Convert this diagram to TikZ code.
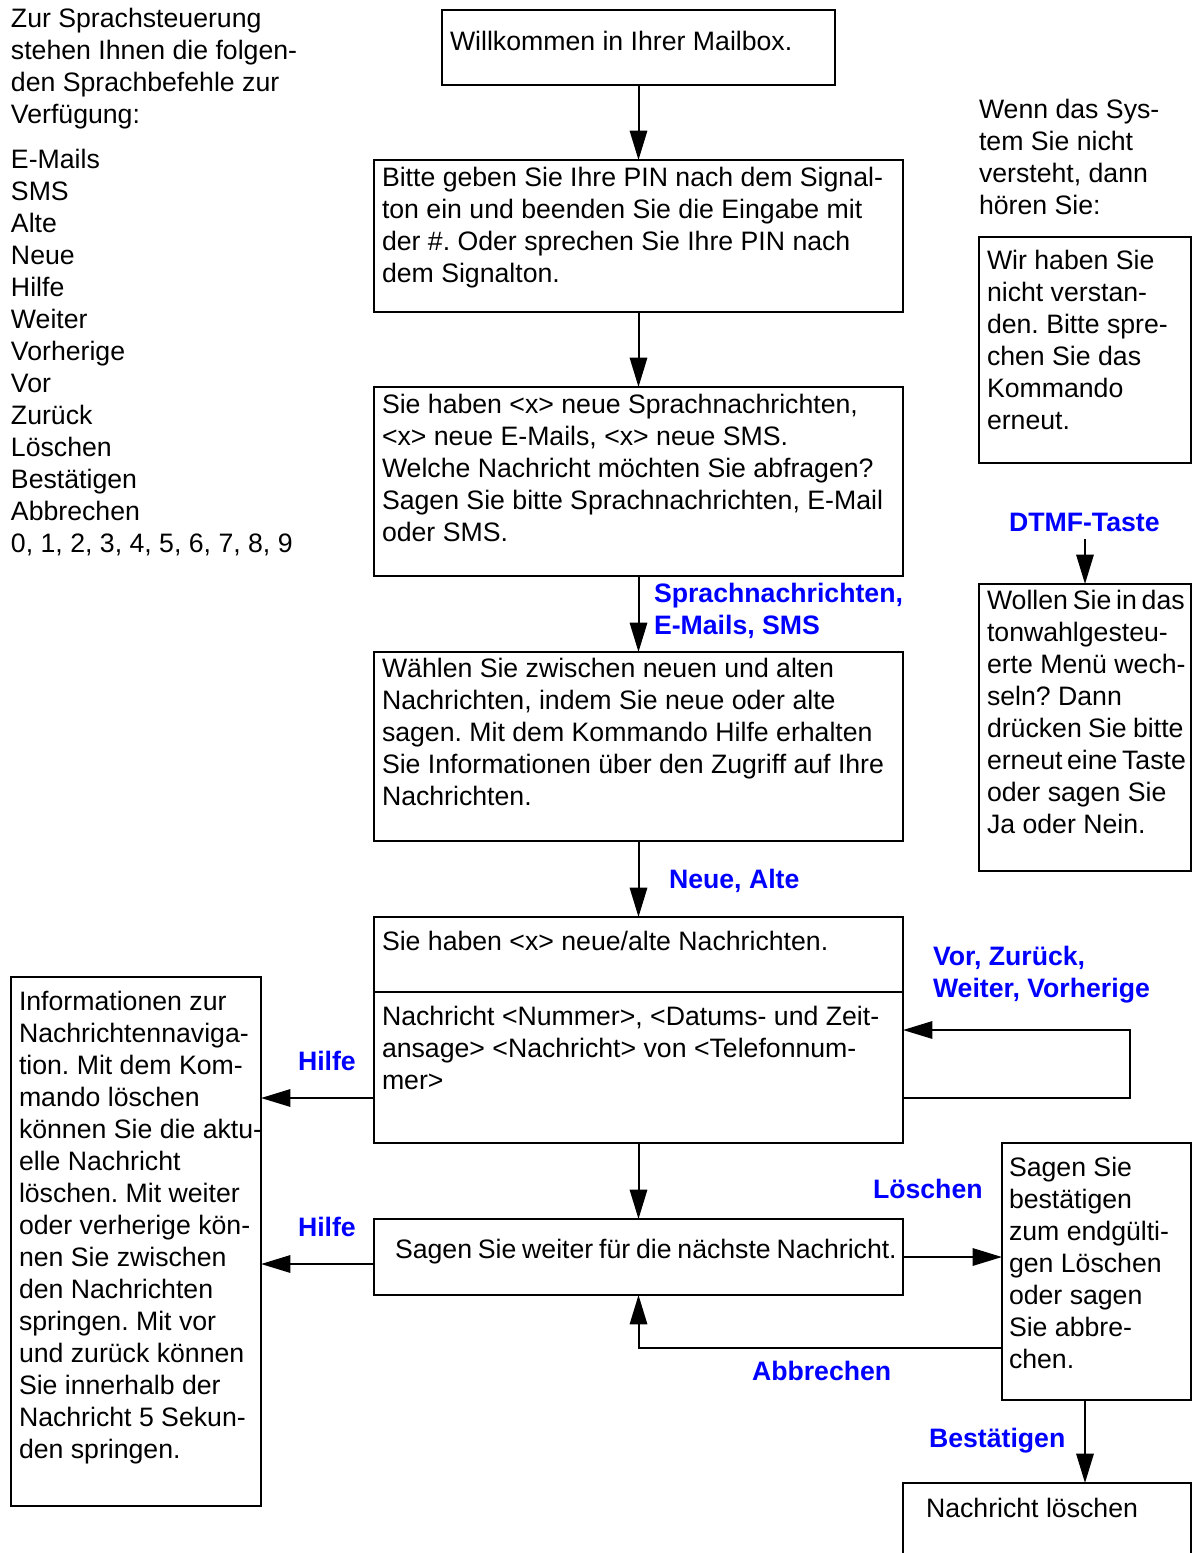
\documentclass[tikz,border=0pt]{standalone}
\usepackage{fontspec}
\setmainfont{Liberation Sans}
\usetikzlibrary{arrows.meta}
\definecolor{kw}{RGB}{0,0,255}
\tikzset{
  bx/.style={draw=black,line width=1.5pt,inner sep=0pt,outer sep=0pt,anchor=north west,fill=none},
  plain/.style={anchor=base west,inner sep=0pt,outer sep=0pt},
  kwd/.style={plain,text=kw,font=\fontsize{20}{24}\selectfont\bfseries},
  conn/.style={line width=1.5pt,-{Triangle[length=22pt,width=13pt]}}
}
\newcommand{\pxd}[1]{\dimexpr 0.75pt*(#1)\relax}
\newcommand{\tight}[2]{{\spaceskip=#1\relax #2}}
% name x1 y1 x2 y2 padx baseline text
\newcommand{\bx}[8]{%
  \node[bx] (#1) at (#2,#3) {\parbox[c][\pxd{#5-#3}][t]{\pxd{#4-#2}}{\rule{0pt}{\pxd{#7-1}}\hspace*{\pxd{#6}}\rlap{\parbox[t]{1000pt}{\raggedright\frenchspacing #8}}}};}
\begin{document}
\begin{tikzpicture}[x=0.75pt,y=-0.75pt,font=\fontsize{20}{24}\selectfont]
\useasboundingbox (0,0) rectangle (1194,1553);
\clip (0,0) rectangle (1194,1553);

\node[plain] (intro) at (11,27) {\parbox[t]{300pt}{\raggedright Zur Sprachsteuerung\\stehen Ihnen die folgen-\\den Sprachbefehle zur\\Verfügung:}};
\node[plain] (cmds) at (11,168) {\parbox[t]{300pt}{\raggedright E-Mails\\SMS\\Alte\\Neue\\Hilfe\\Weiter\\Vorherige\\Vor\\Zurück\\Löschen\\Bestätigen\\Abbrechen\\0, 1, 2, 3, 4, 5, 6, 7, 8, 9}};
\node[plain] (wenn) at (979,118) {\parbox[t]{160pt}{\raggedright Wenn das Sys-\\tem Sie nicht\\versteht, dann\\hören Sie:}};

\bx{welcome}{442}{10}{835}{85}{8}{41}{Willkommen in Ihrer Mailbox.}
\bx{pin}{374}{160}{903}{312}{8}{27}{Bitte geben Sie Ihre PIN nach dem Signal-\\ton ein und beenden Sie die Eingabe mit\\der \#. Oder sprechen Sie Ihre PIN nach\\dem Signalton.}
\bx{menu}{374}{387}{903}{576}{8}{27}{Sie haben <x> neue Sprachnachrichten,\\<x> neue E-Mails, <x> neue SMS.\\Welche Nachricht möchten Sie abfragen?\\Sagen Sie bitte Sprachnachrichten, E-Mail\\oder SMS.}
\bx{choose}{374}{652}{903}{841}{8}{26}{Wählen Sie zwischen neuen und alten\\Nachrichten, indem Sie neue oder alte\\sagen. Mit dem Kommando Hilfe erhalten\\Sie Informationen über den Zugriff auf Ihre\\Nachrichten.}
\bx{head}{374}{917}{903}{992}{8}{34}{Sie haben <x> neue/alte Nachrichten.}
\bx{body}{374}{992}{903}{1143}{8}{34}{Nachricht <Nummer>, <Datums- und Zeit-\\ansage> <Nachricht> von <Telefonnum-\\mer>}
\bx{next}{374}{1219}{903}{1295}{21}{40}{\tight{4.35pt}{Sagen Sie weiter für die nächste Nachricht.}}
\bx{info}{11}{977}{261}{1506}{8}{34}{Informationen zur\\Nachrichtennaviga-\\tion. Mit dem Kom-\\mando löschen\\können Sie die aktu-\\elle Nachricht\\löschen. Mit weiter\\oder verherige kön-\\nen Sie zwischen\\den Nachrichten\\springen. Mit vor\\und zurück können\\Sie innerhalb der\\Nachricht 5 Sekun-\\den springen.}
\bx{nounder}{979}{237}{1191}{463}{8}{33}{Wir haben Sie\\nicht verstan-\\den. Bitte spre-\\chen Sie das\\Kommando\\erneut.}
\bx{tone}{979}{584}{1191}{871}{8}{26}{\tight{3.6pt}{Wollen Sie in das}\\tonwahlgesteu-\\erte Menü wech-\\seln? Dann\\\tight{4.8pt}{drücken Sie bitte}\\\tight{3.4pt}{erneut eine Taste}\\oder sagen Sie\\Ja oder Nein.}
\bx{confirm}{1002}{1143}{1191}{1400}{7}{34}{Sagen Sie\\bestätigen\\zum endgülti-\\gen Löschen\\oder sagen\\Sie abbre-\\chen.}
\bx{last}{903}{1483}{1191}{1575}{23}{35}{Nachricht löschen}

\node[kwd] (kdtmf) at (1009,531) {DTMF-Taste};
\node[kwd] (kspr) at (654,602) {Sprachnachrichten,};
\node[kwd] (kmail) at (654,634) {E-Mails, SMS};
\node[kwd] (kneu) at (669,888) {Neue, Alte};
\node[kwd] (kvor) at (933,965) {Vor, Zurück,};
\node[kwd] (kwei) at (933,997) {Weiter, Vorherige};
\node[kwd] (khelp) at (298,1070) {Hilfe};
\node[kwd] (khelpb) at (298,1236) {Hilfe};
\node[kwd] (kdel) at (873,1198) {Löschen};
\node[kwd] (kabb) at (752,1380) {Abbrechen};
\node[kwd] (kbest) at (929,1447) {Bestätigen};

\coordinate (bodyout) at (903,1098);
\coordinate (bodyin) at (903,1030);
\coordinate (loopa) at (1130,1098);
\coordinate (loopb) at (1130,1030);
\coordinate (bodyleft) at (374,1098);
\coordinate (nextleft) at (374,1264);
\coordinate (confleft) at (1002,1348);
\coordinate (confout) at (1085,1400);
\coordinate (dtmfout) at (1085,539);

\draw[conn] (welcome.south) -- (pin.north);
\draw[conn] (pin.south) -- (menu.north);
\draw[conn] (menu.south) -- (choose.north);
\draw[conn] (choose.south) -- (head.north);
\draw[conn] (body.south) -- (next.north);
\draw[conn] (bodyout) -- (loopa) -- (loopb) -- (bodyin);
\draw[conn] (bodyleft) -- (bodyleft -| info.east);
\draw[conn] (nextleft) -- (nextleft -| info.east);
\draw[conn] (next.east) -- (next.east -| confirm.west);
\draw[conn] (confleft) -| (next.south);
\draw[conn] (confout) -- (confout |- last.north);
\draw[conn] (dtmfout) -- (dtmfout |- tone.north);
\end{tikzpicture}
\end{document}
